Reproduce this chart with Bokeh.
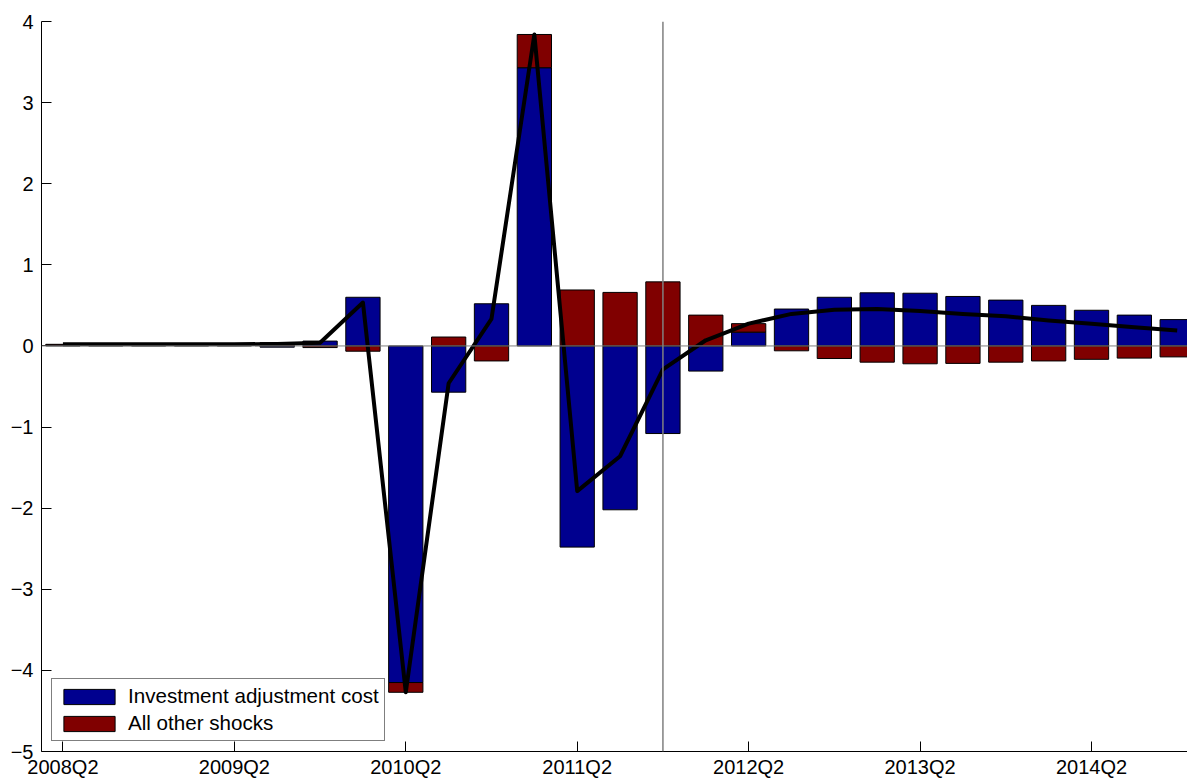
from bokeh.plotting import figure
from bokeh.models import (FixedTicker, Span, Legend, LegendItem, Range1d,
                          ColumnDataSource)
from bokeh.embed import file_html
from bokeh.resources import INLINE

# ---------------- data ----------------
quarters = ["2008Q2", "2008Q3", "2008Q4", "2009Q1", "2009Q2", "2009Q3",
            "2009Q4", "2010Q1", "2010Q2", "2010Q3", "2010Q4", "2011Q1",
            "2011Q2", "2011Q3", "2011Q4", "2012Q1", "2012Q2", "2012Q3",
            "2012Q4", "2013Q1", "2013Q2", "2013Q3", "2013Q4", "2014Q1",
            "2014Q2", "2014Q3", "2014Q4"]
invest_adj = [0.01, 0.01, 0.01, 0.01, 0.01, -0.015, 0.06, 0.60, -4.15,
              -0.57, 0.52, 3.43, -2.48, -2.02, -1.08, -0.31, 0.17, 0.455,
              0.60, 0.655, 0.65, 0.61, 0.565, 0.50, 0.44, 0.38, 0.325]
other_shocks = [0.01, 0.01, 0.01, 0.01, 0.01, 0.04, -0.02, -0.065, -0.12,
                0.11, -0.185, 0.41, 0.69, 0.66, 0.79, 0.38, 0.105, -0.06,
                -0.155, -0.20, -0.22, -0.215, -0.20, -0.185, -0.165, -0.15,
                -0.135]
series_names = ["Investment adjustment cost", "All other shocks"]
series_colors = ["#00008F", "#800000"]
forecast_start = "2011Q4"
y_ticks = [-5, -4, -3, -2, -1, 0, 1, 2, 3, 4]

FONT = "Liberation Sans"
FS = "20px"

n = len(quarters)
idx = list(range(n))
series = [invest_adj, other_shocks]

# stacked bars: positives and negatives stacked separately
pos = [0.0] * n
neg = [0.0] * n
sources = []
for vals in series:
    bottom, top = [], []
    for i, v in enumerate(vals):
        if v >= 0:
            b = pos[i]
            pos[i] += v
        else:
            b = neg[i]
            neg[i] += v
        bottom.append(b)
        top.append(b + v)
    sources.append(ColumnDataSource(dict(x=idx, bottom=bottom, top=top)))
total = [a + b for a, b in zip(invest_adj, other_shocks)]

p = figure(width=1187, height=780,
           x_range=Range1d(-0.5, 26.24), y_range=Range1d(-5, 4),
           output_backend="svg", toolbar_location=None,
           min_border_left=41, min_border_right=0,
           min_border_top=21, min_border_bottom=28)
p.outline_line_color = None
p.grid.visible = False
p.background_fill_color = "white"

renderers = []
for src, col in zip(sources, series_colors):
    r = p.vbar(x="x", width=0.8, bottom="bottom", top="top", source=src,
               fill_color=col, line_color="black", line_width=1)
    renderers.append(r)

p.add_layout(Span(location=0, dimension="width", line_color="#808080",
                  line_width=1))
p.add_layout(Span(location=quarters.index(forecast_start), dimension="height",
                  line_color="#808080", line_width=1.5))

p.line(idx, total, line_color="black", line_width=4, line_join="round")

# axes
xt = [i for i, q in enumerate(quarters) if q.endswith("Q2")]
p.xaxis.ticker = FixedTicker(ticks=xt)
p.xaxis.major_label_overrides = {i: quarters[i] for i in xt}
p.yaxis.ticker = FixedTicker(ticks=y_ticks)
p.yaxis.major_label_overrides = {v: ("\u2212" + str(-v) if v < 0 else str(v))
                                 for v in y_ticks}
for ax in (p.xaxis, p.yaxis):
    ax.major_tick_in = 10
    ax.major_tick_out = 0
    ax.minor_tick_line_color = None
    ax.axis_line_color = "black"
    ax.major_tick_line_color = "black"
    ax.major_label_text_font = FONT
    ax.major_label_text_font_size = FS
    ax.major_label_text_color = "black"
p.xaxis.major_label_standoff = 4
p.yaxis.major_label_standoff = 8

legend = Legend(items=[LegendItem(label=nm, renderers=[r])
                       for nm, r in zip(series_names, renderers)],
                location="bottom_left", margin=10, padding=5, spacing=3,
                glyph_width=64, glyph_height=19, label_height=19,
                label_standoff=7, label_text_font=FONT,
                label_text_font_size="20.6px", label_text_color="black",
                border_line_color="black", border_line_width=1,
                background_fill_color="white", background_fill_alpha=1)
p.add_layout(legend)

open("out.html", "w").write(file_html(p, INLINE))
